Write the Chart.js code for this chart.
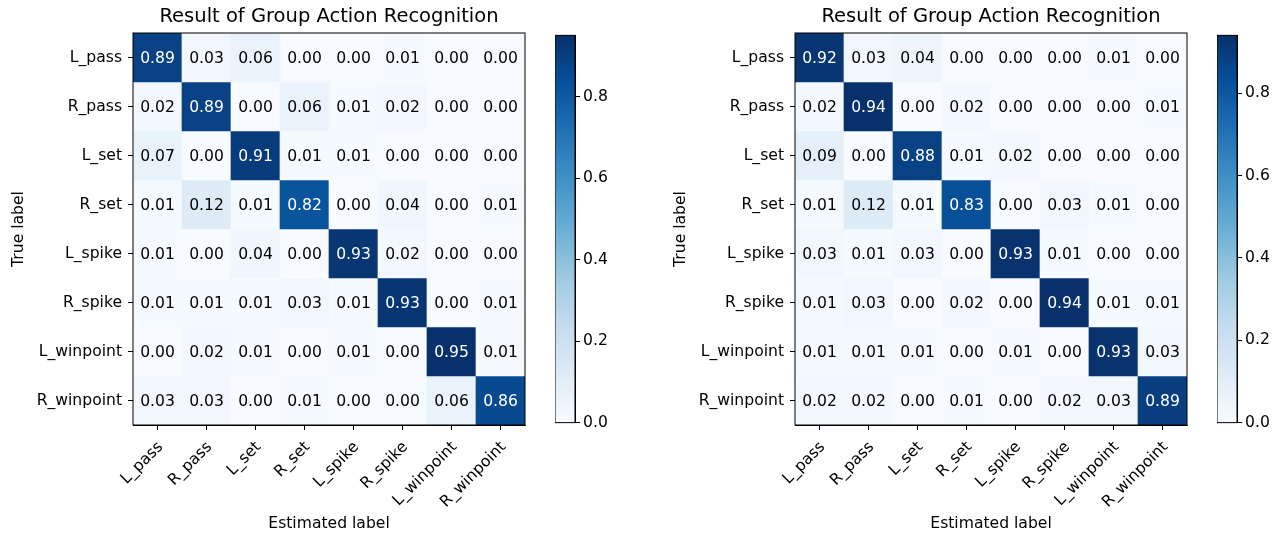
<!DOCTYPE html>
<html>
<head>
<meta charset="utf-8">
<script src="https://cdn.jsdelivr.net/npm/chart.js@4.4.1/dist/chart.umd.min.js"></script>
<style>
  body { margin: 0; background: #fff; }
  #wrap { position: relative; width: 1284px; height: 535px; background: #fff; }
  canvas { position: absolute; }
</style>
</head>
<body>
<div id="wrap">
  <canvas id="leftMatrix" width="530" height="535" style="left:0;top:0"></canvas>
  <canvas id="leftBar" width="70" height="412" style="left:555px;top:23px"></canvas>
  <canvas id="rightMatrix" width="530" height="535" style="left:662px;top:0"></canvas>
  <canvas id="rightBar" width="70" height="412" style="left:1217px;top:23px"></canvas>
</div>
<script>
// labels
const estimatedLabels = ["L_pass", "R_pass", "L_set", "R_set", "L_spike", "R_spike", "L_winpoint", "R_winpoint"];
const trueLabels = ["L_pass", "R_pass", "L_set", "R_set", "L_spike", "R_spike", "L_winpoint", "R_winpoint"];
const colorbarTicks = [0, 0.2, 0.4, 0.6, 0.8];
const chartTitle = "Result of Group Action Recognition";

// confusion matrices, one row per true label
const leftRows = [
  [0.89, 0.03, 0.06, 0.00, 0.00, 0.01, 0.00, 0.00],
  [0.02, 0.89, 0.00, 0.06, 0.01, 0.02, 0.00, 0.00],
  [0.07, 0.00, 0.91, 0.01, 0.01, 0.00, 0.00, 0.00],
  [0.01, 0.12, 0.01, 0.82, 0.00, 0.04, 0.00, 0.01],
  [0.01, 0.00, 0.04, 0.00, 0.93, 0.02, 0.00, 0.00],
  [0.01, 0.01, 0.01, 0.03, 0.01, 0.93, 0.00, 0.01],
  [0.00, 0.02, 0.01, 0.00, 0.01, 0.00, 0.95, 0.01],
  [0.03, 0.03, 0.00, 0.01, 0.00, 0.00, 0.06, 0.86]
];
const rightRows = [
  [0.92, 0.03, 0.04, 0.00, 0.00, 0.00, 0.01, 0.00],
  [0.02, 0.94, 0.00, 0.02, 0.00, 0.00, 0.00, 0.01],
  [0.09, 0.00, 0.88, 0.01, 0.02, 0.00, 0.00, 0.00],
  [0.01, 0.12, 0.01, 0.83, 0.00, 0.03, 0.01, 0.00],
  [0.03, 0.01, 0.03, 0.00, 0.93, 0.01, 0.00, 0.00],
  [0.01, 0.03, 0.00, 0.02, 0.00, 0.94, 0.01, 0.01],
  [0.01, 0.01, 0.01, 0.00, 0.01, 0.00, 0.93, 0.03],
  [0.02, 0.02, 0.00, 0.01, 0.00, 0.02, 0.03, 0.89]
];

Chart.defaults.font.family = "'DejaVu Sans', sans-serif";
Chart.defaults.color = "#000";
const FS = 15.6;

// matplotlib "Blues"
const blues = [
  [247, 251, 255], [222, 235, 247], [198, 219, 239], [158, 202, 225],
  [107, 174, 214], [66, 146, 198], [33, 113, 181], [8, 81, 156], [8, 48, 107]
];
function bluesColor(t) {
  t = Math.max(0, Math.min(1, t));
  const p = t * (blues.length - 1);
  const i = Math.min(Math.floor(p), blues.length - 2);
  const f = p - i;
  const c = blues[i].map((v, k) => Math.round(v + (blues[i + 1][k] - v) * f));
  return `rgb(${c[0]},${c[1]},${c[2]})`;
}

// writes the value in each cell and draws the frame
const cellText = {
  id: "cellText",
  afterDatasetsDraw(chart) {
    const ctx = chart.ctx;
    const rows = chart.config.options.matrix;
    const vmax = Math.max(...rows.flat());
    ctx.save();
    ctx.font = FS + "px 'DejaVu Sans'";
    ctx.textAlign = "center";
    ctx.textBaseline = "middle";
    chart.data.datasets.forEach((ds, i) => {
      chart.getDatasetMeta(i).data.forEach((bar, j) => {
        const v = rows[i][j];
        ctx.fillStyle = v > vmax / 2 ? "#fff" : "#000";
        ctx.fillText(v.toFixed(2), bar.x, (bar.y + bar.base) / 2 + 1);
      });
    });
    const a = chart.chartArea;
    ctx.strokeStyle = "#000";
    ctx.lineWidth = 1;
    ctx.strokeRect(a.left, a.top, a.right - a.left, a.bottom - a.top);
    ctx.restore();
  }
};

function makeMatrix(id, rows) {
  const vmax = Math.max(...rows.flat());
  new Chart(document.getElementById(id), {
    type: "bar",
    data: {
      labels: estimatedLabels,
      datasets: rows.map((row, i) => ({
        label: trueLabels[i],
        data: row.map(() => [i, i + 1]),
        backgroundColor: row.map(v => bluesColor(v / vmax)),
        borderWidth: 0,
        barPercentage: 1,
        categoryPercentage: 1,
        grouped: false
      }))
    },
    options: {
      matrix: rows,
      responsive: false,
      animation: false,
      layout: { padding: { right: 5 } },
      plugins: {
        legend: { display: false },
        tooltip: { enabled: false },
        title: {
          display: true,
          text: chartTitle,
          fullSize: false,
          color: "#000",
          font: { size: 19.5, weight: "normal", lineHeight: 1.0 },
          padding: { top: 7.5, bottom: 6 }
        }
      },
      scales: {
        x: {
          grid: { offset: false, drawOnChartArea: false, drawTicks: true, tickLength: 5, color: "#000" },
          border: { display: true, color: "#000" },
          ticks: { autoSkip: false, minRotation: 45, maxRotation: 45, font: { size: FS }, padding: 8, labelOffset: 3 },
          title: { display: true, text: "Estimated label", font: { size: FS }, padding: { top: 0, bottom: 2 } },
          afterFit(scale) { scale.height = 110; }
        },
        y: {
          type: "linear",
          min: 0,
          max: trueLabels.length,
          reverse: true,
          grid: { drawOnChartArea: false, drawTicks: true, tickLength: 5, color: "#000" },
          border: { display: true, color: "#000" },
          afterBuildTicks(scale) { scale.ticks = trueLabels.map((_, i) => ({ value: i + 0.5 })); },
          ticks: { autoSkip: false, font: { size: FS }, padding: 6, callback: (v, i) => trueLabels[i] },
          title: { display: true, text: "True label", font: { size: FS }, padding: { top: 10, bottom: 0 } },
          afterFit(scale) { scale.width = 133; }
        }
      }
    },
    plugins: [cellText]
  });
}

function makeColorbar(id, rows) {
  const vmax = Math.max(...rows.flat());
  new Chart(document.getElementById(id), {
    type: "bar",
    data: {
      labels: [""],
      datasets: [{
        data: [[0, vmax]],
        borderWidth: 0,
        barPercentage: 1,
        categoryPercentage: 1,
        backgroundColor(c) {
          const a = c.chart.chartArea;
          if (!a) return "#fff";
          const g = c.chart.ctx.createLinearGradient(0, a.bottom, 0, a.top);
          blues.forEach((_, k) => g.addColorStop(k / (blues.length - 1), bluesColor(k / (blues.length - 1))));
          return g;
        }
      }]
    },
    options: {
      responsive: false,
      animation: false,
      layout: { padding: { top: 10, bottom: 10 } },
      plugins: { legend: { display: false }, tooltip: { enabled: false } },
      scales: {
        x: { display: false },
        y: {
          position: "right",
          min: 0,
          max: vmax,
          grid: { drawOnChartArea: false, drawTicks: true, tickLength: 5, color: "#000" },
          border: { display: true, color: "#000" },
          afterBuildTicks(scale) { scale.ticks = colorbarTicks.map(v => ({ value: v })); },
          ticks: { font: { size: FS }, padding: 3, callback: v => v.toFixed(1) },
          afterFit(scale) { scale.width = 50; }
        }
      }
    },
    plugins: [{
      id: "frame",
      afterDraw(chart) {
        const a = chart.chartArea, ctx = chart.ctx;
        ctx.save();
        ctx.strokeStyle = "#000";
        ctx.lineWidth = 1;
        ctx.strokeRect(a.left, a.top, a.right - a.left, a.bottom - a.top);
        ctx.restore();
      }
    }]
  });
}

makeMatrix("leftMatrix", leftRows);
makeColorbar("leftBar", leftRows);
makeMatrix("rightMatrix", rightRows);
makeColorbar("rightBar", rightRows);
</script>
</body>
</html>
